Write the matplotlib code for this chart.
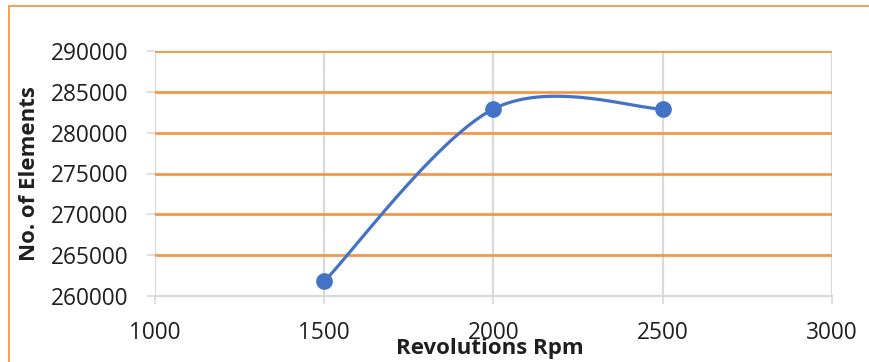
import numpy as np
import matplotlib
matplotlib.use("Agg")
import matplotlib.pyplot as plt
from matplotlib.patches import Rectangle

# podaci
rpm = [1500, 2000, 2500]
elementi = [261800, 282900, 282900]

x_ticks = [1000, 1500, 2000, 2500, 3000]
y_ticks = [260000, 265000, 270000, 275000, 280000, 285000, 290000]

NARANCASTA = "#F79646"
SIVA = "#D9D9D9"
PLAVA = "#4472C4"


def excel_glatka_linija(xs, ys, n=60):
    """Glatka linija kao u Excelu (Bezier, Catmull-Rom kontrolne tocke)."""
    P = np.column_stack([xs, ys]).astype(float)
    P = np.vstack([P[0], P, P[-1]])
    tocke = []
    for i in range(1, len(P) - 2):
        p0, p1, p2, p3 = P[i - 1], P[i], P[i + 1], P[i + 2]
        c1 = p1 + (p2 - p0) / 6
        c2 = p2 - (p3 - p1) / 6
        t = np.linspace(0, 1, n)[:, None]
        b = ((1 - t) ** 3 * p1 + 3 * (1 - t) ** 2 * t * c1
             + 3 * (1 - t) * t ** 2 * c2 + t ** 3 * p2)
        tocke.append(b)
    b = np.vstack(tocke)
    return b[:, 0], b[:, 1]


plt.rcParams["font.family"] = ["Open Sans", "DejaVu Sans"]

fig = plt.figure(figsize=(8.7, 3.62), dpi=100)
ax = fig.add_axes([155 / 870, 1 - 296 / 362, 677 / 870, 245 / 362])

# okvir slike (gornji i lijevi rub)
fig.patches.append(Rectangle((9 / 870, -0.2), 1.2, 1.2 - 6 / 362,
                             transform=fig.transFigure, fill=False,
                             edgecolor=NARANCASTA, linewidth=1.3,
                             clip_on=False))

ax.set_xlim(1000, 3000)
ax.set_ylim(260000, 290000)
ax.set_xticks(x_ticks)
ax.set_yticks(y_ticks)

for x in x_ticks:
    ax.axvline(x, color=SIVA, linewidth=1.6, zorder=1)
for y in y_ticks[1:]:
    ax.axhline(y, color=NARANCASTA, linewidth=2.0, zorder=1)

for s in ax.spines.values():
    s.set_visible(False)
ax.spines["bottom"].set_visible(True)
ax.spines["bottom"].set_color(SIVA)
ax.spines["bottom"].set_linewidth(1.6)
ax.spines["bottom"].set_zorder(1)

ax.tick_params(axis="both", length=6, width=1.2, color=SIVA,
               labelsize=16.3, labelcolor="#1f1f1f")
ax.tick_params(axis="y", pad=13)
ax.tick_params(axis="x", pad=12)

gx, gy = excel_glatka_linija(rpm, elementi)
ax.plot(gx, gy, color=PLAVA, linewidth=2.3, zorder=3, clip_on=False)
ax.plot(rpm, elementi, "o", color=PLAVA, markersize=11, zorder=4,
        clip_on=False)

ax.set_xlabel("Revolutions Rpm", fontsize=16, fontweight="bold",
              color="#1f1f1f")
ax.xaxis.set_label_coords(0.495, -0.215)
ax.xaxis.label.set_verticalalignment("center")
ax.set_ylabel("No. of Elements", fontsize=16, fontweight="bold",
              color="#1f1f1f")
ax.yaxis.set_label_coords(-0.185, 0.5)
ax.yaxis.label.set_verticalalignment("center")

fig.savefig("out.png", dpi=100)
